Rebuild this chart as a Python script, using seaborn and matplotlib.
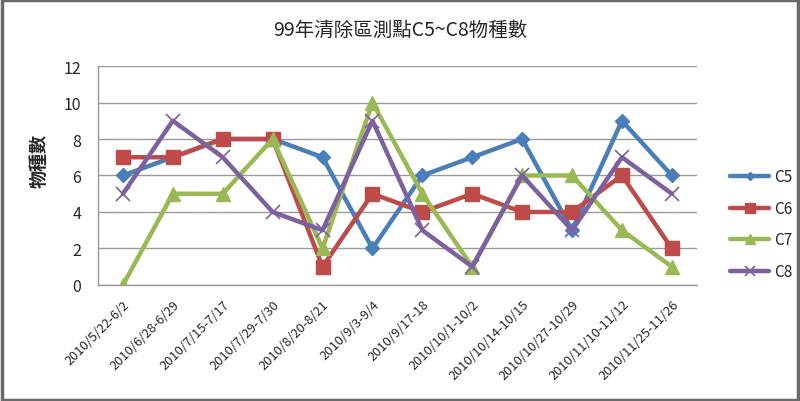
import pandas as pd
import numpy as np
import matplotlib.pyplot as plt
import seaborn as sns

sns.set_theme(style='white')
plt.rcParams['font.family'] = ['Noto Sans CJK TC', 'DejaVu Sans']

# Data
periods = ['2010/5/22-6/2', '2010/6/28-6/29', '2010/7/15-7/17', '2010/7/29-7/30',
           '2010/8/20-8/21', '2010/9/3-9/4', '2010/9/17-18', '2010/10/1-10/2',
           '2010/10/14-10/15', '2010/10/27-10/29', '2010/11/10-11/12', '2010/11/25-11/26']
c5 = [6, 7, 8, 8, 7, 2, 6, 7, 8, 3, 9, 6]
c6 = [7, 7, 8, 8, 1, 5, 4, 5, 4, 4, 6, 2]
c7 = [0, 5, 5, 8, 2, 10, 5, 1, 6, 6, 3, 1]
c8 = [5, 9, 7, 4, 3, 9, 3, 1, 6, 3, 7, 5]
sites = ['C5', 'C6', 'C7', 'C8']

colors = {'C5': '#4A7EBB', 'C6': '#BE4B48', 'C7': '#98B954', 'C8': '#7D60A0'}
markers = {'C5': 'D', 'C6': 's', 'C7': '^', 'C8': 'x'}
msizes = {'C5': 7, 'C6': 10, 'C7': 10, 'C8': 10}

df = pd.DataFrame({'idx': np.arange(len(periods)), 'C5': c5, 'C6': c6, 'C7': c7, 'C8': c8})
long_df = df.melt(id_vars='idx', var_name='site', value_name='count')

fig = plt.figure(figsize=(8, 4.02), dpi=100)
ax = fig.add_axes([0.1225, 0.2886, 0.7485, 0.5447])

for s in sites:
    sub = long_df[long_df['site'] == s]
    sns.lineplot(data=sub, x='idx', y='count', ax=ax, color=colors[s], linewidth=3.2,
                 marker=markers[s], markersize=msizes[s], markeredgewidth=1 if s != 'C8' else 1.2,
                 markeredgecolor=colors[s], label=s)

ax.set_xlim(-0.5, len(periods) - 0.5)
ax.set_ylim(0, 12)
ax.set_yticks(range(0, 13, 2))
ax.set_xticks(np.arange(len(periods)))
ax.set_xticklabels(periods, rotation=45, ha='right', rotation_mode='anchor', fontsize=9.3)
ax.tick_params(axis='y', labelsize=11.5, length=0, pad=12)
ax.tick_params(axis='x', length=0, pad=9)
ax.yaxis.grid(True, color='#9a9a9a', linewidth=1)
ax.set_axisbelow(True)
for sp in ['top', 'right']:
    ax.spines[sp].set_visible(False)
for sp in ['left', 'bottom']:
    ax.spines[sp].set_color('#9a9a9a')
    ax.spines[sp].set_linewidth(1)
ax.set_xlabel('')
ax.set_ylabel('物種數', fontsize=13, fontweight='bold')
ax.yaxis.set_label_coords(-0.083, 0.57)

ax.legend_.remove()
handles, labels = ax.get_legend_handles_labels()
fig.legend(handles, labels, loc='center left', bbox_to_anchor=(0.895, 0.44),
           frameon=False, fontsize=11, handlelength=2.6, labelspacing=0.95, handletextpad=0.3,
           markerscale=0.65)

fig.text(0.5, 0.925, '99年清除區測點C5~C8物種數', ha='center', va='center', fontsize=14)

# outer border like the original chart frame
fig.patches.append(plt.Rectangle((0.002, 0.003), 0.996, 0.994, transform=fig.transFigure,
                                 fill=False, edgecolor='#6a6a6a', linewidth=2.5))

fig.savefig('out.png', dpi=100)
